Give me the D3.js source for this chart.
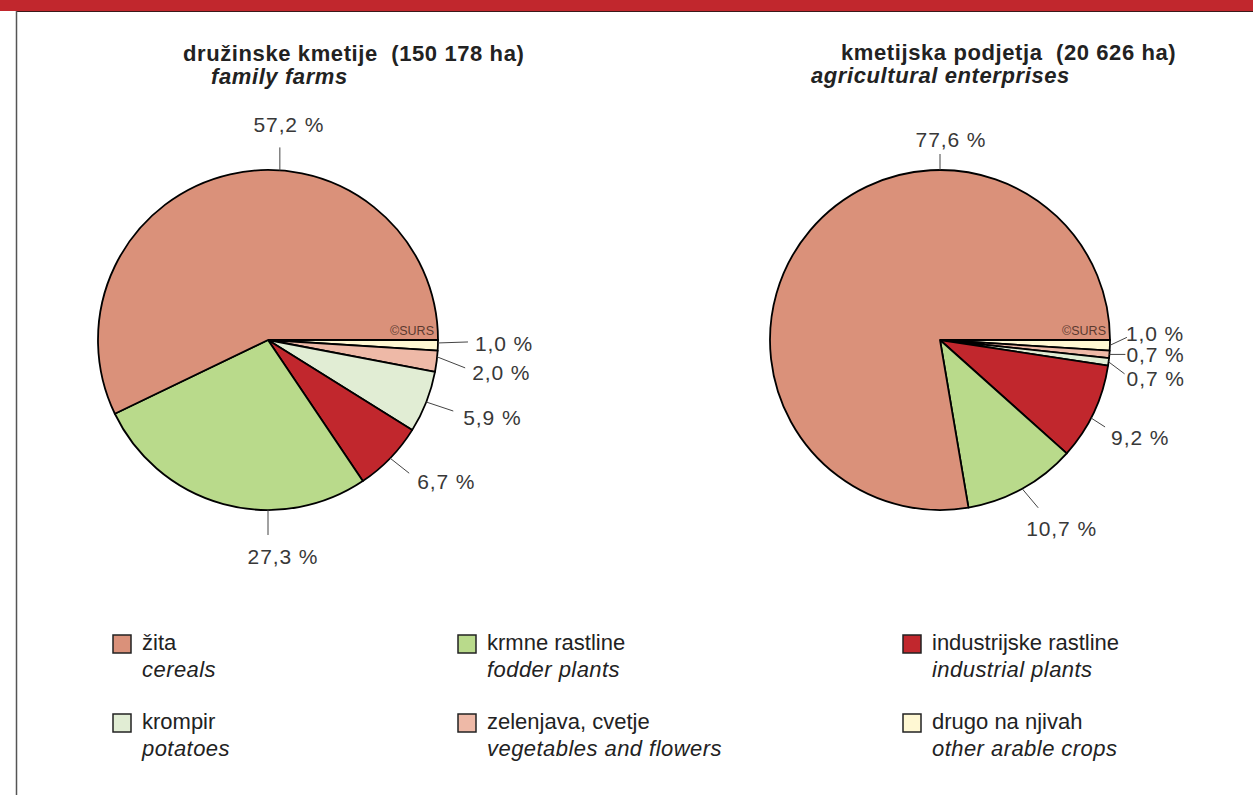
<!DOCTYPE html>
<html>
<head>
<meta charset="utf-8">
<script src="https://cdn.jsdelivr.net/npm/d3@7"></script>
<style>
  html, body { margin: 0; padding: 0; background: #fff; }
  svg { display: block; font-family: "Liberation Sans", Arial, Helvetica, sans-serif; }
</style>
</head>
<body>
<svg id="chart" width="1253" height="795"></svg>
<script>
// ---- data ----
const categoriesSl = ["žita", "krmne rastline", "industrijske rastline", "krompir", "zelenjava, cvetje", "drugo na njivah"];
const categoriesEn = ["cereals", "fodder plants", "industrial plants", "potatoes", "vegetables and flowers", "other arable crops"];
const familyFarms = [57.2, 27.3, 6.7, 5.9, 2.0, 1.0];
const enterprises = [77.6, 10.7, 9.2, 0.7, 0.7, 1.0];
const titlesSl = ["družinske kmetije  (150 178 ha)", "kmetijska podjetja  (20 626 ha)"];
const titlesEn = ["family farms", "agricultural enterprises"];
const colors = ["#DA917A", "#B9DA8B", "#C1272D", "#E1EDD4", "#EEB9A7", "#FFF8D3"];

// ---- layout (positions only) ----
const W = 1253, H = 795;
const R = 170;
const pies = [
  { values: familyFarms, cx: 268, cy: 340, title: [183, 61], sub: [211, 84],
    labels: [
      { ang: 4,   line: [0, -23], text: [9, -15], anchor: "middle" },
      { ang: 180, line: [0, 25],  text: [15, 29], anchor: "middle" },
      { ang: null, line: [19, 15], text: [8, 16], anchor: "start" },
      { ang: null, line: [27, 9],  text: [10, 14], anchor: "start" },
      { ang: 95.7, line: [28, 11], text: [7, 12], anchor: "start" },
      { ang: 91,  line: [30, -1], text: [7, 9], anchor: "start" }
    ] },
  { values: enterprises, cx: 940, cy: 340, title: [841, 60], sub: [811, 83],
    labels: [
      { ang: 0,   line: [0, -16], text: [11, -7], anchor: "middle" },
      { ang: null, line: [16, 19], text: [-12, 28], anchor: "start" },
      { ang: 117.3, line: [14, 9], text: [6, 18], anchor: "start" },
      { ang: null, line: [16, 12], text: [2, 12], anchor: "start" },
      { ang: null, line: [16, 0],  text: [1, 8], anchor: "start" },
      { ang: null, line: [17, -8], text: [-1, 4], anchor: "start" }
    ] }
];

const svg = d3.select("#chart");
svg.append("rect").attr("width", W).attr("height", H).attr("fill", "#fff");

// header band + left frame
svg.append("rect").attr("x", 0).attr("y", 0).attr("width", W).attr("height", 11).attr("fill", "#C1272D");
svg.append("line").attr("x1", 16.5).attr("x2", W).attr("y1", 11.5).attr("y2", 11.5)
  .attr("stroke", "#3a1a1a").attr("stroke-width", 1.2);
svg.append("line").attr("x1", 16.5).attr("x2", 16.5).attr("y1", 11).attr("y2", H)
  .attr("stroke", "#555").attr("stroke-width", 1.5);

const fmt = v => d3.format(".1f")(v).replace(".", ",") + " %";
const order = [5, 4, 3, 2, 1, 0]; // clockwise from 3 o'clock
const arc = d3.arc().innerRadius(0).outerRadius(R);

pies.forEach((p, pi) => {
  const g = svg.append("g").attr("transform", `translate(${p.cx},${p.cy})`);
  const arcs = d3.pie().sort(null).value(i => p.values[i])
    .startAngle(Math.PI / 2).endAngle(Math.PI / 2 + 2 * Math.PI)(order);

  g.selectAll("path.slice").data(arcs).join("path")
    .attr("class", "slice")
    .attr("d", arc)
    .attr("fill", d => colors[d.data])
    .attr("stroke", "#000")
    .attr("stroke-width", 1.8)
    .attr("stroke-linejoin", "round");

  // copyright
  g.append("text").attr("x", R - 4).attr("y", -5)
    .attr("text-anchor", "end").attr("font-size", 12.5)
    .attr("fill", "#5a3a30").text("©SURS");

  // labels
  arcs.forEach(d => {
    const i = d.data;
    const L = p.labels[i];
    const a = L.ang != null ? L.ang * Math.PI / 180 : (d.startAngle + d.endAngle) / 2;
    const x0 = R * Math.sin(a), y0 = -R * Math.cos(a);
    const x1 = x0 + L.line[0], y1 = y0 + L.line[1];
    g.append("line").attr("x1", x0).attr("y1", y0).attr("x2", x1).attr("y2", y1)
      .attr("stroke", "#444").attr("stroke-width", 1);
    g.append("text").attr("x", x1 + L.text[0]).attr("y", y1 + L.text[1])
      .attr("text-anchor", L.anchor)
      .attr("font-size", 21).attr("letter-spacing", 0.9)
      .attr("fill", "#383838").text(fmt(p.values[i]));
  });

  svg.append("text").attr("x", p.title[0]).attr("y", p.title[1])
    .attr("font-size", 22).attr("font-weight", "bold").attr("fill", "#222")
    .attr("letter-spacing", 0.6)
    .attr("xml:space", "preserve").style("white-space", "pre")
    .text(titlesSl[pi]);
  svg.append("text").attr("x", p.sub[0]).attr("y", p.sub[1])
    .attr("font-size", 22).attr("font-weight", "bold").attr("font-style", "italic").attr("fill", "#222")
    .attr("letter-spacing", 0.6)
    .text(titlesEn[pi]);
});

// legend
const legX = [113, 458, 903];
const legY = [635, 714];
const legendOrder = [0, 1, 2, 3, 4, 5];
const leg = svg.append("g");
legendOrder.forEach((ci, k) => {
  const col = k % 3, row = Math.floor(k / 3);
  const x = legX[col], y = legY[row];
  leg.append("rect").attr("x", x).attr("y", y).attr("width", 18).attr("height", 18)
    .attr("fill", colors[ci]).attr("stroke", "#222").attr("stroke-width", 1.5);
  leg.append("text").attr("x", x + 29).attr("y", y + 15).attr("font-size", 22)
    .attr("fill", "#222").text(categoriesSl[ci]);
  leg.append("text").attr("x", x + 29).attr("y", y + 42).attr("font-size", 22)
    .attr("letter-spacing", 0.45)
    .attr("font-style", "italic").attr("fill", "#222").text(categoriesEn[ci]);
});
</script>
</body>
</html>
